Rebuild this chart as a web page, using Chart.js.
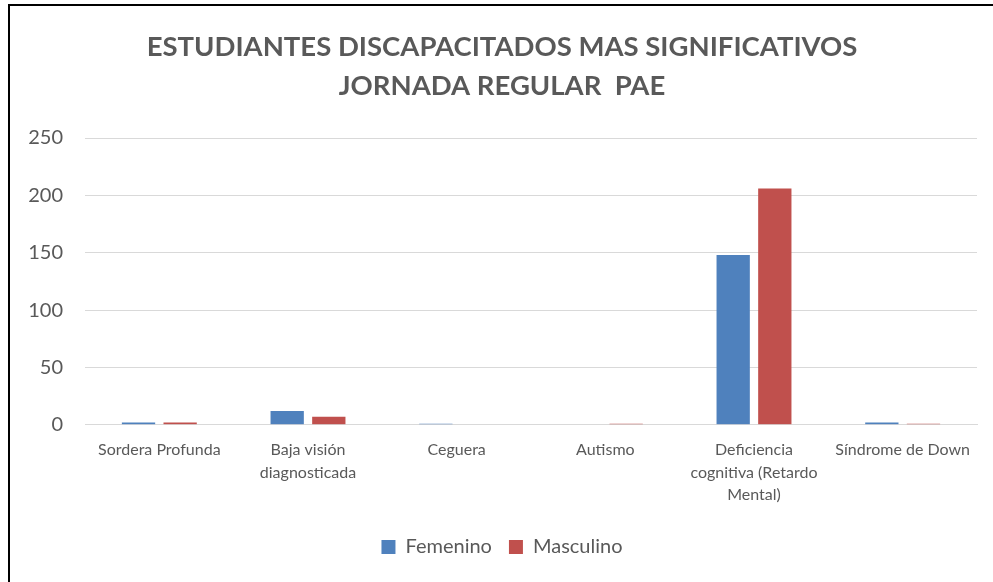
<!DOCTYPE html>
<html><head><meta charset="utf-8">
<script src="https://cdn.jsdelivr.net/npm/chart.js@4"></script>
<style>
html,body{margin:0;padding:0;background:#fff;overflow:hidden}
#frame{position:absolute;left:8px;top:4px;width:1000px;height:590px;border:2px solid #000;box-sizing:border-box}
#wrap{position:absolute;left:0px;top:6px;width:993px;height:576px}
</style></head><body>
<div id="frame"></div>
<div id="wrap"><canvas id="c"></canvas></div>
<script>
const categories = [["Sordera Profunda"], ["Baja visión","diagnosticada"], ["Ceguera"], ["Autismo"], ["Deficiencia","cognitiva (Retardo","Mental)"], ["Síndrome de Down"]];
const femenino = [2, 12, 1, 0, 148, 2];
const masculino = [2, 7, 0, 1, 206, 1];
const yTicks = [0, 50, 100, 150, 200, 250];
const titleLines = ["ESTUDIANTES DISCAPACITADOS MAS SIGNIFICATIVOS", "JORNADA REGULAR  PAE"];

const FONT = "Lato, 'Open Sans', sans-serif";
new Chart(document.getElementById('c'), {
  type: 'bar',
  data: {
    labels: categories,
    datasets: [
      {label: 'Femenino', data: femenino, backgroundColor: '#4f81bd', borderColor: '#4f81bd', borderWidth: 0, categoryPercentage: 0.56, barPercentage: 0.8},
      {label: 'Masculino', data: masculino, backgroundColor: '#c0504d', borderColor: '#c0504d', borderWidth: 0, categoryPercentage: 0.56, barPercentage: 0.8}
    ]
  },
  options: {
    responsive: true, maintainAspectRatio: false, animation: false,
    layout: {padding: {left: 27, right: 16, top: 22, bottom: 15}},
    plugins: {
      title: {display: true, text: titleLines, color: '#595959', font: {family: FONT, size: 27.5, weight: 'bold', lineHeight: 1.4}, padding: {top: 0, bottom: 33}},
      legend: {position: 'bottom', labels: {color: '#595959', font: {family: FONT, size: 20}, boxWidth: 14, boxHeight: 14, padding: 17}},
      tooltip: {enabled: false}
    },
    scales: {
      x: {
        grid: {display: false, drawTicks: false},
        border: {display: true, color: '#d9d9d9', width: 1},
        ticks: {color: '#595959', font: {family: FONT, size: 16, lineHeight: 1.4}, padding: 14, maxRotation: 0, autoSkip: false}
      },
      y: {
        min: 0, max: 250,
        afterBuildTicks: (ax) => { ax.ticks = yTicks.map(v => ({value: v})); },
        afterFit: (ax) => { ax.width = 58; },
        grid: {color: '#d9d9d9', drawTicks: false},
        border: {display: false},
        ticks: {color: '#595959', font: {family: FONT, size: 20}, padding: 22}
      }
    }
  }
});
</script>
</body></html>
